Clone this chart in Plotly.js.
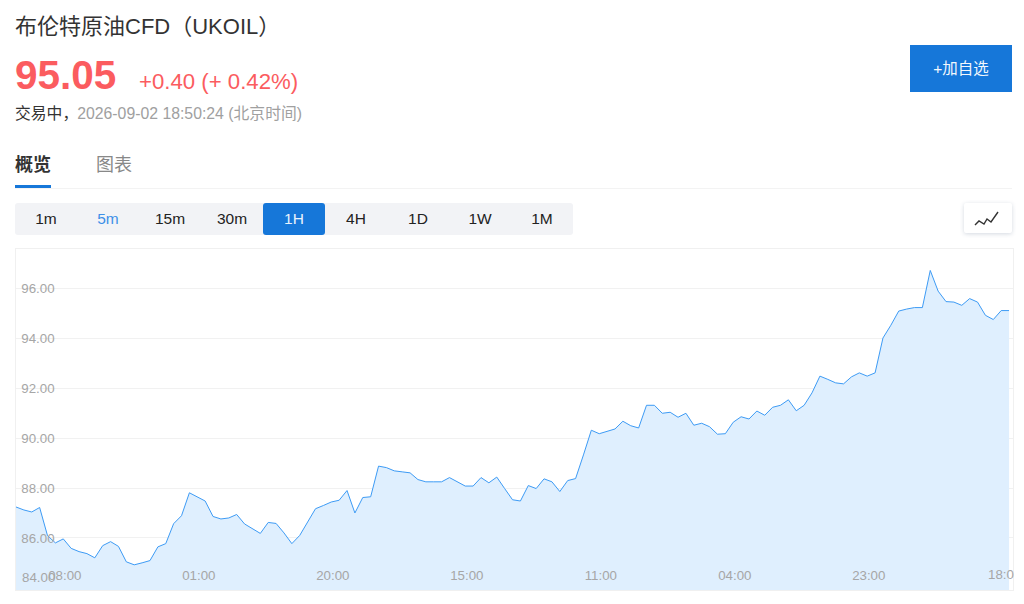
<!DOCTYPE html>
<html><head><meta charset="utf-8">
<script src="https://cdn.plot.ly/plotly-3.0.1.min.js"></script>
<style>
html,body{margin:0;padding:0;background:#fff;width:1024px;height:604px;overflow:hidden;font-family:"Liberation Sans","Noto Sans CJK SC",sans-serif}
#chart{position:absolute;left:0;top:0;width:1024px;height:604px}
.t{position:absolute;white-space:nowrap;line-height:1;z-index:2}
.btn{position:absolute;top:203px;height:32px;width:62px;line-height:32px;text-align:center;font-size:15.5px;color:#222;z-index:2}
</style></head><body>
<div id="chart"></div>
<div style="position:absolute;left:1014px;top:555px;width:10px;height:40px;background:#fff;z-index:2"></div>
<div class="t" style="left:15px;top:16px;font-size:22px;color:#333">布伦特原油CFD（UKOIL）</div>
<div class="t" style="left:15px;top:55px;font-size:40.5px;font-weight:bold;color:#fb5c5f">95.05</div>
<div class="t" style="left:139px;top:71px;font-size:22.2px;color:#fb5c5f">+0.40 (+ 0.42%)</div>
<div class="t" style="left:15px;top:106px;font-size:15.8px;color:#333">交易中，<span style="color:#a0a0a0;margin-left:-1px">2026-09-02 18:50:24 (北京时间)</span></div>
<div class="t" style="left:15px;top:156px;font-size:18px;font-weight:bold;color:#333">概览</div>
<div class="t" style="left:96px;top:156px;font-size:18px;color:#888">图表</div>
<div style="position:absolute;left:15px;top:188px;width:997px;height:1px;background:#f3f3f3"></div>
<div style="position:absolute;left:15px;top:185px;width:36px;height:3px;background:#1677d9;z-index:2"></div>
<div style="position:absolute;left:15px;top:203px;width:558px;height:32px;background:#f2f3f6;border-radius:3px"></div>
<div id="tabs"></div>
<div style="position:absolute;left:910px;top:45px;width:102px;height:47px;line-height:47px;text-align:center;background:#1677d9;color:#f2f7fd;font-size:15.5px;z-index:2">+加自选</div>
<div style="position:absolute;left:964px;top:203px;width:48px;height:30px;background:#fff;border-radius:2px;box-shadow:0 1px 4px rgba(60,80,120,.22);z-index:2">
<svg width="48" height="30" style="display:block"><polyline points="11,22 15,18 20,21 23,16 27,19 34,9" fill="none" stroke="#333" stroke-width="1.4"/></svg></div>
<script>
var intervals = ["1m","5m","15m","30m","1H","4H","1D","1W","1M"];
var tickPositions = [6.2,23.2,40.2,57.2,74.2,91.2,108.2];
var tickLabels = ["08:00","01:00","20:00","15:00","11:00","04:00","23:00"];
var lastTickLabel = "18:00";
var lastTickPosition = 125.2;
var priceTicks = [86,88,90,92,94,96];
var priceLabels = ["86.00","88.00","90.00","92.00","94.00","96.00"];
var prices = [87.24,87.12,87.04,87.22,86.09,85.80,85.96,85.58,85.45,85.37,85.20,85.69,85.85,85.66,85.04,84.92,85.00,85.09,85.64,85.77,
86.57,86.89,87.81,87.66,87.48,86.86,86.76,86.80,86.94,86.56,86.38,86.18,86.62,86.58,86.20,85.77,86.10,86.62,87.17,87.30,
87.44,87.51,87.90,87.00,87.62,87.65,88.88,88.82,88.69,88.65,88.61,88.34,88.25,88.25,88.25,88.42,88.24,88.08,88.08,88.42,
88.21,88.44,87.98,87.53,87.48,88.10,87.98,88.37,88.25,87.86,88.30,88.38,89.33,90.32,90.18,90.26,90.37,90.68,90.50,90.41,
91.32,91.32,91.00,91.04,90.84,91.00,90.52,90.60,90.46,90.16,90.18,90.64,90.86,90.77,91.09,90.92,91.24,91.32,91.54,91.10,
91.32,91.82,92.49,92.36,92.22,92.18,92.46,92.62,92.49,92.62,94.02,94.53,95.10,95.18,95.24,95.24,96.73,95.90,95.48,95.46,
95.33,95.60,95.46,94.93,94.76,95.12,95.12];

var tabs = document.getElementById('tabs');
intervals.forEach(function(label,i){
  var d = document.createElement('div');
  d.className = 'btn';
  d.textContent = label;
  d.style.left = (15 + 62*i) + 'px';
  if(label === '5m') d.style.color = '#3d8fe8';
  if(label === '1H'){ d.style.background = '#1677d9'; d.style.color = '#e8f2fc'; d.style.borderRadius = '3px'; }
  tabs.appendChild(d);
});

var gray = '#a6a6a6';
var lab = {family:'"Liberation Sans",sans-serif', size:13.3, color:gray};
Plotly.newPlot('chart',[{
  type:'scatter', mode:'lines',
  x:prices.map(function(_,i){return i;}), y:prices,
  line:{color:'#3d9bf5',width:1}, fill:'tozeroy', fillcolor:'#dfeffe', hoverinfo:'skip'
}],{
  width:1024,height:604,showlegend:false,
  margin:{l:16,r:11,t:248.5,b:13.5,pad:0},
  paper_bgcolor:'rgba(0,0,0,0)',plot_bgcolor:'#fff',
  xaxis:{range:[0,126.5],tickmode:'array',tickvals:tickPositions,ticktext:tickLabels,
    ticklabelposition:'inside',tickfont:lab,showgrid:false,zeroline:false,ticks:'',
    showline:true,mirror:true,linecolor:'#f0f0f0',linewidth:1,fixedrange:true,ticklabelstandoff:7},
  yaxis:{range:[83.91,97.59],tickmode:'array',tickvals:priceTicks,ticktext:priceLabels,
    ticklabelposition:'inside',tickfont:lab,showgrid:true,gridcolor:'#f1f1f1',gridwidth:1,zeroline:false,ticks:'',
    showline:true,mirror:true,linecolor:'#f0f0f0',linewidth:1,fixedrange:true,ticklabelstandoff:5},
  annotations:[
    {text:'84.00',xref:'paper',x:0,xanchor:'left',xshift:4,yref:'y',y:84,yshift:10,showarrow:false,font:lab},
    {text:lastTickLabel,xref:'x',x:lastTickPosition,xanchor:'center',xshift:2,yref:'y',y:84,yshift:13,showarrow:false,font:lab}
  ]
},{displayModeBar:false,staticPlot:true});
</script>
</body></html>
